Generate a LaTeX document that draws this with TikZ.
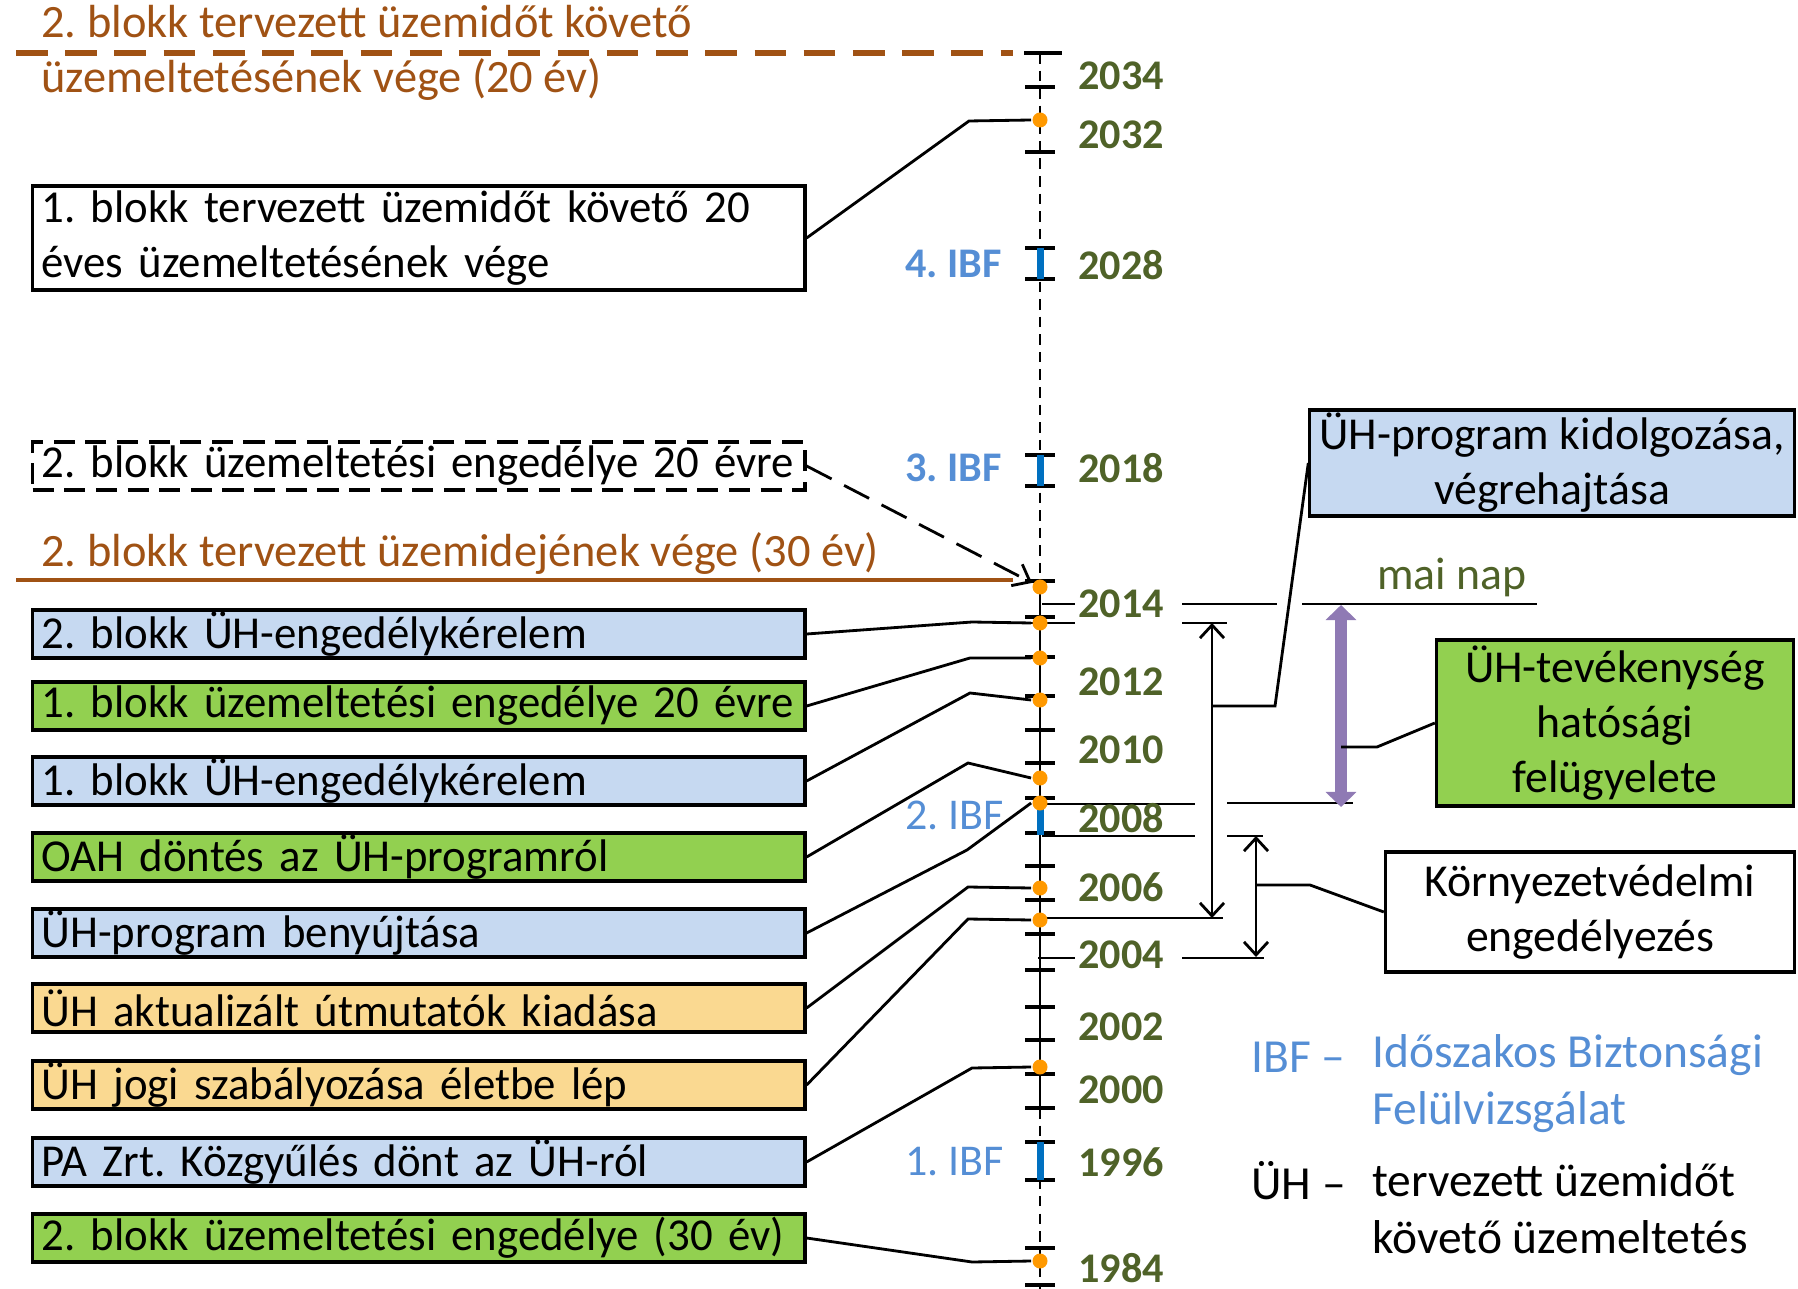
\documentclass[tikz,border=0pt]{standalone}
\usepackage{fontspec}
\setmainfont{Carlito}
\newfontfamily\boxfont{Carlito}[WordSpace=0.55, FakeStretch=0.98]
\frenchspacing
\usetikzlibrary{positioning, arrows.meta}
\definecolor{boxblue}{RGB}{198,217,241}
\definecolor{boxgreen}{RGB}{146,208,80}
\definecolor{boxyellow}{RGB}{250,217,145}
\definecolor{brownline}{RGB}{160,82,20}
\definecolor{yeargreen}{RGB}{79,98,40}
\definecolor{ibfblue}{RGB}{85,142,213}
\definecolor{ibfbar}{RGB}{0,112,192}
\definecolor{dotorange}{RGB}{255,153,0}
\definecolor{spanpurple}{RGB}{143,122,180}
\tikzset{
  evbox/.style={draw, line width=0.9pt, anchor=west, text width=7.54cm,
    minimum height=0.48cm, inner xsep=0.09cm, inner ysep=0pt, align=left,
    font=\boxfont\fontsize{13}{15.6}\selectfont},
  sidebox/.style={draw, line width=0.9pt, align=center, inner sep=0pt,
    font=\fontsize{13}{15.6}\selectfont},
  browntext/.style={anchor=west, inner sep=0pt, align=left, text=brownline,
    font=\fontsize{13.2}{15.6}\selectfont},
  year/.style={anchor=west, inner sep=0pt, text=yeargreen,
    font=\bfseries\fontsize{12}{14}\selectfont},
  ibf/.style={anchor=east, inner sep=0pt, text=ibfblue,
    font=\fontsize{12.5}{15}\selectfont},
  tick/.style={line width=0.9pt},
  guide/.style={line width=0.8pt},
  dot/.style={circle, fill=dotorange, inner sep=0pt, minimum size=0.15cm},
  span/.style={line width=0.8pt, {Straight Barb[length=1.3mm,width=2.4mm]}-{Straight Barb[length=1.3mm,width=2.4mm]}},
  legkey/.style={anchor=west, inner sep=0pt, font=\fontsize{13.5}{16}\selectfont},
  legtext/.style={anchor=west, inner sep=0pt, align=left, font=\fontsize{13.5}{16.2}\selectfont}
}
\begin{document}
\begin{tikzpicture}[x=0.01cm, y=-0.01cm, line width=0.8pt]
  \useasboundingbox (0,0) rectangle (1798,1289);

  % time axis
  \draw[line width=0.6pt, dash pattern=on 3pt off 2pt] (1040,53) -- (1040,582);
  \draw[line width=0.8pt] (1040,582) -- (1040,1108);
  \draw[line width=0.6pt, dash pattern=on 3pt off 2pt] (1040,1108) -- (1040,1289);
  \draw[tick] (1024,53) -- (1062,53);
  \foreach \y in {87,152,248,279,455,486,581,617,657,696,730,763,798,833,866,900,934,970,1007,1040,1074,1108,1142,1180,1248,1285}
    \draw[tick] (1025,\y) -- (1055,\y);

  % IBF periods
  \foreach \a/\b in {248/279,455/486,805/835,1142/1180}
    \draw[ibfbar, line width=2pt] (1040,\a) -- (1040,\b);

  % guide lines
  \draw[line width=0.5pt] (1042,604) -- (1075,604);
  \draw[line width=0.5pt] (1182,604) -- (1277,604);
  \draw[line width=0.5pt] (1302,604) -- (1537,604);
  \draw[guide] (1022,623) -- (1075,623);
  \draw[guide] (1182,623) -- (1227,623);
  \draw[guide] (1042,804) -- (1195,804);
  \draw[guide] (1227,803) -- (1353,803);
  \draw[guide] (1042,836) -- (1195,836);
  \draw[guide] (1227,836) -- (1263,836);
  \draw[guide] (1042,918) -- (1223,918);
  \draw[guide] (1038,958) -- (1075,958);
  \draw[guide] (1182,958) -- (1264,958);

  % years
  \foreach \yr/\y in {2034/76,2032/135,2028/265,2018/468,2014/604,2012/682,2010/750,2008/818,2006/887,2004/955,2002/1027,2000/1090,1996/1162,1984/1268}
    \node[year] (y\yr) at (1077,\y) {\yr};

  \node[ibf, font=\bfseries\fontsize{12}{14}\selectfont] (ibf4) at (1003,264) {4. IBF};
  \node[ibf, font=\bfseries\fontsize{12}{14}\selectfont] (ibf3) at (1003,468) {3. IBF};
  \node[ibf] (ibf2) at (1005,815) {2. IBF};
  \node[ibf] (ibf1) at (1005,1162) {1. IBF};

  % events on the axis
  \foreach \n/\y in {d2032/120,d2014/587,d2013/623,d2012/658,d2011/700,d2009/778,d2008/803,d2006/888,d2005/920,d2000/1067,d1984/1261}
    \node[dot] (\n) at (1040,\y) {};

  % 2. blokk end lines
  \draw[brownline, line width=1.5pt, dash pattern=on 9pt off 5pt] (16,53) -- (1013,53);
  \node[browntext] (vege20) at (40,53) {2. blokk tervezett üzemidőt követő\\üzemeltetésének vége (20 év)};
  \draw[brownline, line width=1.4pt] (16,580) -- (1013,580);
  \node[browntext] (vege30) at (40,554) {2. blokk tervezett üzemidejének vége (30 év)};

  % event boxes
  \node[evbox, minimum height=1.04cm] (b20end) at (31,238) {1. blokk tervezett üzemidőt követő 20\\éves üzemeltetésének vége};
  \node[evbox, dashed, dash pattern=on 6pt off 3pt] (b2lic20) at (31,466) {2. blokk üzemeltetési engedélye 20 évre};
  \node[evbox, fill=boxblue] (b2kerelem) at (31,634) {2. blokk ÜH-engedélykérelem};
  \node[evbox, fill=boxgreen] (b1lic20) at (31,706) {1. blokk üzemeltetési engedélye 20 évre};
  \node[evbox, fill=boxblue] (b1kerelem) at (31,781) {1. blokk ÜH-engedélykérelem};
  \node[evbox, fill=boxgreen] (oahdont) at (31,857) {OAH döntés az ÜH-programról};
  \node[evbox, fill=boxblue] (progbeny) at (31,933) {ÜH-program benyújtása};
  \node[evbox, fill=boxyellow] (utmutato) at (31,1008) {ÜH aktualizált útmutatók kiadása};
  \node[evbox, fill=boxyellow] (jogi) at (31,1085) {ÜH jogi szabályozása életbe lép};
  \node[evbox, fill=boxblue] (kozgyul) at (31,1162) {PA Zrt. Közgyűlés dönt az ÜH-ról};
  \node[evbox, fill=boxgreen] (b2lic30) at (31,1238) {2. blokk üzemeltetési engedélye (30 év)};

  \draw (b20end.east) -- (969,121) -- (d2032.west);
  \draw[dash pattern=on 8pt off 4pt, -{Straight Barb[length=1.5mm,width=2.4mm]}] (b2lic20.east) -- (d2014);
  \draw (b2kerelem.east) -- (972,622) -- (d2013.west);
  \draw (b1lic20.east) -- (970,658) -- (d2012.west);
  \draw (b1kerelem.east) -- (970,693) -- (d2011.west);
  \draw (oahdont.east) -- (968,763) -- (d2009.west);
  \draw (progbeny.east) -- (967,850) -- (d2008.west);
  \draw (utmutato.east) -- (968,887) -- (d2006.west);
  \draw (jogi.east) -- (968,919) -- (d2005.west);
  \draw (kozgyul.east) -- (972,1068) -- (d2000.west);
  \draw (b2lic30.east) -- (972,1262) -- (d1984.west);

  % right side
  \node[sidebox, fill=boxblue, minimum width=4.84cm, minimum height=1.06cm] (progbox) at (1552,463) {ÜH-program kidolgozása,\\végrehajtása};
  \node[sidebox, fill=boxgreen, minimum width=3.57cm, minimum height=1.66cm] (felugy) at (1615,723) {ÜH-tevékenység\\hatósági\\felügyelete};
  \node[sidebox, fill=white, minimum width=4.09cm, minimum height=1.2cm] (kornyezet) at (1590,912) {Környezetvédelmi\\engedélyezés};
  \node[inner sep=0pt, text=yeargreen, font=\fontsize{13}{15.6}\selectfont] (mainap) at (1452,577) {mai nap};

  \draw[span] (1212,623) -- (1212,918);
  \draw[span] (1256,836) -- (1256,957);
  \draw[spanpurple, line width=3.6pt, {Triangle[length=1.5mm,width=3mm]}-{Triangle[length=1.5mm,width=3mm]}] (1341,605) -- (1341,807);

  \coordinate (uhspan) at (1212,706);
  \coordinate (felspan) at (1341,747);
  \coordinate (kornyspan) at (1256,885);
  \draw (uhspan) -- (1275,706) -- (progbox.west);
  \draw (felspan) -- (1377,747) -- (felugy.west);
  \draw (kornyspan) -- (1310,885) -- (kornyezet.west);

  % legend
  \node[legkey, text=ibfblue] (ibfkey) at (1250,1057) {IBF –};
  \node[legtext, text=ibfblue] (ibfdef) at (1371,1084) {Időszakos Biztonsági\\Felülvizsgálat};
  \node[legkey] (uhkey) at (1250,1181) {ÜH –};
  \node[legtext] (uhdef) at (1371,1209) {tervezett üzemidőt\\követő üzemeltetés};

\end{tikzpicture}
\end{document}
